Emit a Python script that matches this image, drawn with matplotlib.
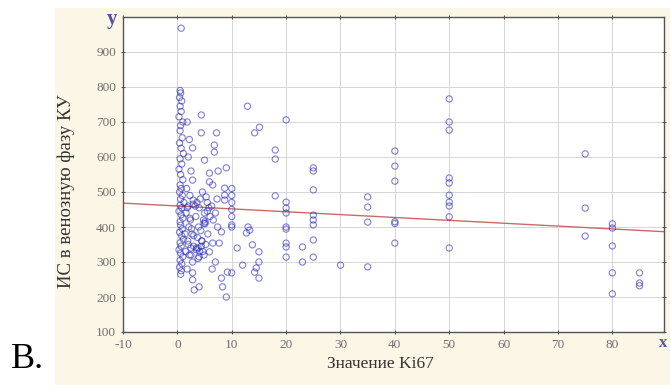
import matplotlib
matplotlib.use("Agg")
import matplotlib.pyplot as plt
import numpy as np
from matplotlib.patches import Rectangle

# dense cluster, Ki67 0..16
ki67_low = [0.5, 0.6, 0.4, 0.8, 0.5, 0.7, 0.3, 1.0, 0.6, 0.5, 0.9, 0.4, 0.7, 1.1, 0.5,
            0.8, 0.3, 0.6, 1.0, 0.5, 0.7, 0.4, 0.9, 0.6, 1.2, 0.5, 0.8, 0.3, 0.7, 1.0,
            0.5, 0.6, 0.9, 0.4, 0.8, 1.1, 0.5, 0.7, 0.3, 0.6, 1.0, 0.5, 0.8, 0.4, 0.7, 0.6,
            0.7,
            1.8, 2.2, 2.8, 2.0, 2.5, 2.8, 1.7, 2.3, 2.9, 2.0, 1.6, 2.4, 2.1, 2.7, 1.9, 2.5,
            2.2, 2.8, 1.8, 2.8, 2.8, 3.1,
            4.4, 4.4, 5.0, 5.9, 5.9, 4.6, 5.3, 3.6, 4.0, 5.5, 3.4, 4.8, 5.1, 3.9, 4.3, 5.6,
            3.7, 4.5, 5.2, 3.5, 4.1, 4.9, 3.8, 4.0, 5.9,
            1.5, 2.0, 2.5, 3.0, 3.5, 4.0, 4.5, 5.0, 5.5, 6.0, 1.8, 2.6, 3.3, 4.2, 5.1, 3.8,
            4.7, 2.3, 5.8, 3.0, 4.4, 1.4, 2.9, 4.9,
            7.2, 6.8, 6.8, 7.5, 6.5, 7.3, 6.3, 7.0, 6.6, 7.4, 6.5, 7.7, 7.0, 6.4,
            9.0, 8.7, 8.7, 8.7, 10.0, 10.0, 10.0, 10.0, 10.0, 10.0,
            8.1, 8.1, 8.3, 9.0, 9.2, 10.0, 10.0, 11.0, 12.0, 12.7, 13.0, 13.3, 13.8,
            14.2, 14.5, 15.0, 15.0, 15.0, 12.9, 14.2, 15.1]
ic_low = [790, 783, 770, 760, 745, 730, 715, 700, 690, 675, 655, 640, 625, 610, 595,
          580, 565, 550, 535, 520, 510, 500, 490, 480, 470, 462, 455, 445, 435, 425,
          415, 405, 395, 385, 375, 365, 355, 345, 335, 325, 315, 305, 295, 285, 275, 265,
          968,
          700, 650, 626, 600, 560, 534, 510, 490, 477, 460, 440, 420, 400, 380, 360, 340,
          320, 300, 280, 269, 249, 220,
          720, 669, 591, 554, 529, 500, 486, 470, 455, 445, 430, 420, 410, 400, 390, 380,
          370, 360, 350, 340, 330, 320, 310, 229, 329,
          330, 350, 320, 345, 335, 315, 360, 440, 470, 430, 455, 395, 460, 480, 415, 340,
          330, 425, 455, 375, 345, 380, 465, 410,
          669, 634, 614, 560, 520, 480, 460, 440, 420, 400, 354, 354, 300, 280,
          569, 511, 491, 477, 510, 490, 470, 450, 430, 406,
          254, 386, 229, 200, 271, 269, 400, 340, 291, 383, 400, 391, 349,
          271, 283, 329, 300, 254, 745, 669, 685]

# sparse values, Ki67 17..85
ki67_high = [18, 18, 18,
             20, 20, 20, 20, 20, 20, 20, 20, 20,
             23, 23,
             25, 25, 25, 25, 25, 25, 25, 25,
             30,
             35, 35, 35, 35,
             40, 40, 40, 40, 40, 40,
             50, 50, 50, 50, 50, 50, 50, 50, 50, 50,
             75, 75, 75,
             80, 80, 80, 80, 80,
             85, 85, 85]
ic_high = [620, 594, 489,
           706, 471, 454, 440, 400, 394, 354, 343, 314,
           343, 300,
           569, 560, 506, 434, 420, 406, 363, 314,
           291,
           486, 457, 414, 286,
           617, 574, 531, 415, 410, 354,
           766, 700, 677, 540, 526, 491, 471, 460, 429, 340,
           609, 454, 374,
           409, 397, 346, 269, 209,
           269, 240, 232]

# fitted line
line_intercept = 460
line_slope = -0.82

x_ticks = [-10, 0, 10, 20, 30, 40, 50, 60, 70, 80]
y_ticks = [100, 200, 300, 400, 500, 600, 700, 800, 900]

plt.rcParams['font.family'] = ['Liberation Serif', 'DejaVu Serif']
plt.rcParams['axes.unicode_minus'] = False

fig = plt.figure(figsize=(6.7, 3.85), dpi=100)
fig.patch.set_facecolor('white')
fig.add_artist(Rectangle((55 / 670, 0), 1 - 55 / 670, 1 - 8 / 385,
                         transform=fig.transFigure, facecolor='#fbf6e5',
                         edgecolor='none', zorder=-10))

ax = fig.add_axes([123 / 670, 53 / 385, 541 / 670, 315 / 385])
ax.set_facecolor('white')

x = np.array(ki67_low + ki67_high)
y = np.array(ic_low + ic_high)
ax.scatter(x, y, s=20, facecolors='none', edgecolors='#2a2ab8',
           linewidths=0.8, alpha=0.6, zorder=3)

xl = np.array([-10, 89.5])
ax.plot(xl, line_intercept + line_slope * xl, color='#c86a6a', lw=1.0, zorder=2)

ax.set_xlim(-10, 89.5)
ax.set_ylim(100, 1000)
ax.set_xticks(x_ticks)
ax.set_yticks(y_ticks)
ax.grid(True, color='#d6d6d6', lw=0.7)
ax.set_axisbelow(True)
ax.tick_params(axis='both', labelsize=9.5, colors='#555555', labelcolor='#707070',
               length=3, width=0.8, top=True, right=True, direction='inout')
for s in ax.spines.values():
    s.set_color('#555555')
    s.set_linewidth(1.0)

ax.set_xlabel('Значение Ki67', fontsize=12.5, color='#333333')
ax.xaxis.set_label_coords(0.475, -0.075)
ax.xaxis.label.set_va('top')
ax.set_ylabel('ИС в венозную фазу КУ', fontsize=13.5, color='#333333')
ax.yaxis.set_label_coords(-0.105, 0.448)
ax.yaxis.label.set_va('center')

fig.text(112 / 670, 1 - 19 / 385, 'y', fontsize=15, fontweight='bold',
         color='#5252a8', ha='center', va='center')
fig.text(663 / 670, 1 - 343 / 385, 'x', fontsize=12, fontweight='bold',
         color='#5252a8', ha='center', va='center')
fig.text(27 / 670, 1 - 360 / 385, 'B.', fontsize=26, color='black',
         ha='center', va='center')

fig.savefig('out.png', dpi=100)
